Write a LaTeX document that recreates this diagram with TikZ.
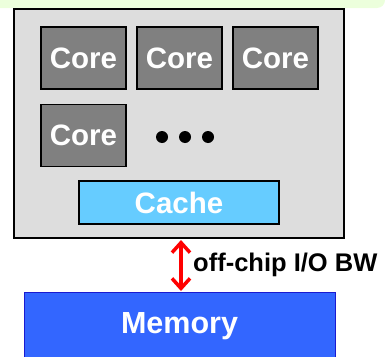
\documentclass[tikz,border=0pt]{standalone}
\usepackage{fontspec}
\setmainfont{Liberation Sans}
\usetikzlibrary{arrows.meta}
\definecolor{chipgray}{HTML}{DDDDDD}
\definecolor{coregray}{HTML}{808080}
\definecolor{cacheblue}{HTML}{66CCFF}
\definecolor{memblue}{HTML}{3366FF}
\definecolor{memborder}{HTML}{1A1AD0}
\definecolor{bandgreen}{HTML}{ECFFDC}
\tikzset{
  bigtext/.style={text=white, font=\fontsize{29.5}{32}\selectfont\bfseries},
  corebox/.style={draw=black, line width=1.2pt, fill=coregray, bigtext, minimum width=85pt, minimum height=62pt, inner sep=0pt},
  dotmark/.style={circle, fill=black, minimum size=12pt, inner sep=0pt},
}
\begin{document}
\begin{tikzpicture}[x=1pt, y=-1pt]
\useasboundingbox (0,0) rectangle (385,356);
% green band at top
\fill[bandgreen, rounded corners=8pt] (-20,-20) rectangle (385,8);
% chip
\node[draw=black, line width=1.2pt, fill=chipgray, minimum width=330pt, minimum height=229pt, inner sep=0pt] (chip) at (179,123.5) {};
\node[corebox] (c1) at (83.5,58) {Core};
\node[corebox] (c2) at (179.5,58) {Core};
\node[corebox] (c3) at (275.5,58) {Core};
\node[corebox] (c4) at (83.5,135.5) {Core};
\node[dotmark] (d1) at (162,137) {};
\node[dotmark] (d2) at (185,137) {};
\node[dotmark] (d3) at (208,137) {};
\node[draw=black, line width=1.2pt, fill=cacheblue, bigtext, minimum width=200pt, minimum height=43pt, inner sep=0pt] (cache) at (179,202.5) {Cache};
% memory
\node[draw=memborder, line width=1pt, fill=memblue, minimum width=311pt, minimum height=70pt, inner sep=0pt, anchor=north] (mem) at (179.5,292) {};
\node[text=white, font=\fontsize{30.5}{33}\selectfont\bfseries] (memlabel) at (179.5,326) {Memory};
% arrow
\draw[red, line width=3.8pt, {Straight Barb[length=10pt,width=18pt,line width=3.5pt]}-{Straight Barb[length=10pt,width=18pt,line width=3.5pt]}] (181,240) -- (181,291);
\node[anchor=west, font=\fontsize{25.5}{28}\selectfont\bfseries, inner sep=0pt] (bw) at (193,265) {off-chip I/O BW};
\end{tikzpicture}
\end{document}
